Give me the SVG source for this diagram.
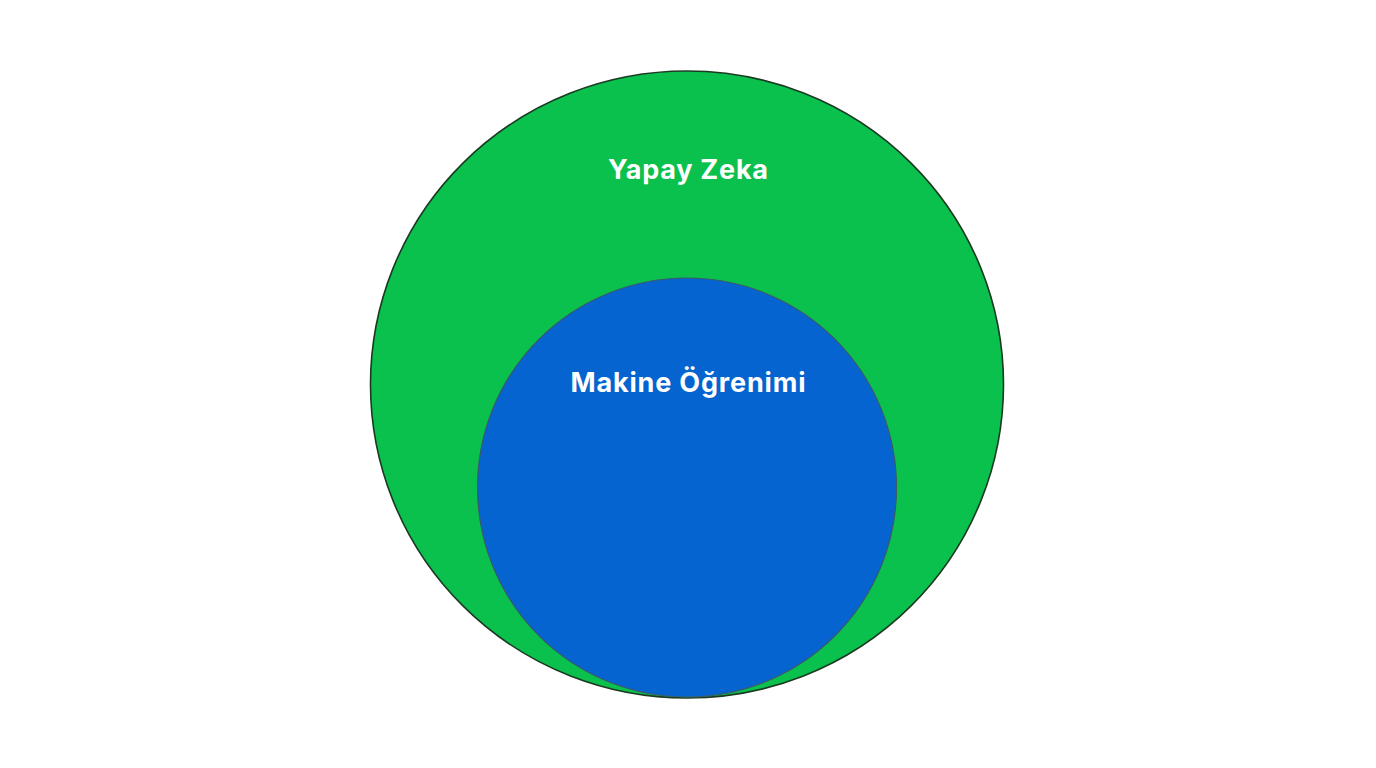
<svg xmlns="http://www.w3.org/2000/svg" width="1376" height="768" viewBox="0 0 1376 768">
<style>
.lbl{font-family:Inter,"Noto Sans","Liberation Sans",sans-serif;font-weight:700;fill:#ffffff;text-anchor:middle}
</style>
<rect width="1376" height="768" fill="#ffffff"/>
<g id="yapay-zeka">
<ellipse cx="687" cy="384.5" rx="316.5" ry="313.5" fill="#0bc14d" stroke="#1a3a22" stroke-width="1.6"/>
<text class="lbl" x="688" y="179" font-size="27" textLength="160" lengthAdjust="spacing">Yapay Zeka</text>
</g>
<g id="makine-ogrenimi">
<circle cx="687" cy="487.5" r="209.5" fill="#0564d0" stroke="#3a5a6a" stroke-width="1.2"/>
<text class="lbl" x="688" y="392" font-size="27" textLength="235" lengthAdjust="spacing">Makine Öğrenimi</text>
</g>
<g id="connectors"></g>
</svg>
